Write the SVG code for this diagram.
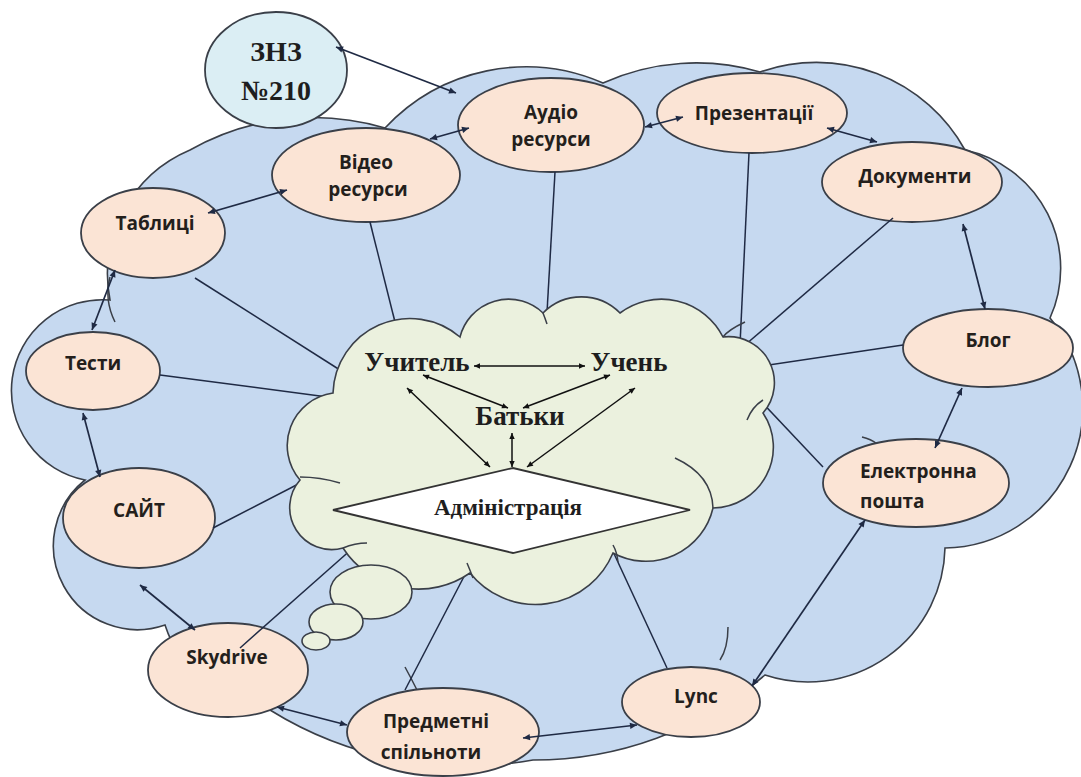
<svg xmlns="http://www.w3.org/2000/svg" width="1081" height="777" viewBox="0 0 1081 777">
<defs>
<style>
.bg{fill:#ffffff}
.blue{fill:#c6d9f0;stroke:#3a3f48;stroke-width:1.6}
.green{fill:#ebf1de;stroke:#3a3f48;stroke-width:1.6}
.stub{fill:none;stroke:#3a3f48;stroke-width:1.5}
.ell{fill:#fbe4d5;stroke:#3a3f48;stroke-width:1.8}
.znz{fill:#dbeef4;stroke:#3a3f48;stroke-width:1.8}
.dia{fill:#ffffff;stroke:#333333;stroke-width:1.8}
.lbl{font-family:"Open Sans","Liberation Sans",sans-serif;font-weight:700;font-size:19px;fill:#241f1c;text-anchor:middle}
.ser{font-family:"Liberation Serif","DejaVu Serif",serif;font-weight:700;fill:#1e1e1e;text-anchor:middle}
.line{fill:none;stroke:#1f2a44;stroke-width:1.5}
.arr{fill:none;stroke:#1f2a44;stroke-width:1.7;marker-start:url(#ah);marker-end:url(#ah)}
.carr{fill:none;stroke:#111111;stroke-width:1.5;marker-start:url(#ch);marker-end:url(#ch)}
</style>
<marker id="ah" viewBox="0 0 10 10" refX="10" refY="5" markerWidth="9" markerHeight="7" markerUnits="userSpaceOnUse" orient="auto-start-reverse">
<path d="M0,0.5 L10,5 L0,9.5 z" fill="#1f2a44"/>
</marker>
<marker id="ch" viewBox="0 0 10 10" refX="10" refY="5" markerWidth="8" markerHeight="6" markerUnits="userSpaceOnUse" orient="auto-start-reverse">
<path d="M0,0.5 L10,5 L0,9.5 z" fill="#111111"/>
</marker>
</defs>
<rect class="bg" x="0" y="0" width="1081" height="777"/>

<g id="outer-cloud">
<path class="blue" d="M110,300 A135,135 0 0 1 190,150 A250,250 0 0 1 385,128 A193,193 0 0 1 603,83 A227,227 0 0 1 760,72 A170,170 0 0 1 965,150 A121,121 0 0 1 1050,318 A140,140 0 0 1 945,548 A137,137 0 0 1 765,675 A358,358 0 0 1 533,760 A372,372 0 0 1 270,710 A124,124 0 0 1 165,625 A84,84 0 0 1 85,480 A91,91 0 0 1 110,300 Z"/>
<path class="stub" d="M110,277 Q104,300 115,322"/>
<path class="stub" d="M728,627 Q728,648 720,660"/>
<path class="stub" d="M862,437 Q871,439 877,444"/>
<path class="stub" d="M405,667 Q411,678 417,690"/>
</g>

<g id="node-znz">
<ellipse class="znz" cx="276" cy="70" rx="71" ry="58"/>
<text class="ser" x="276" y="61" font-size="28">ЗНЗ</text>
<text class="ser" x="276" y="100" font-size="28">№210</text>
</g>
<g id="node-audio">
<ellipse class="ell" cx="551" cy="125" rx="93" ry="47"/>
<text class="lbl" x="551" y="119">Аудіо</text>
<text class="lbl" x="551" y="146">ресурси</text>
</g>
<g id="node-present">
<ellipse class="ell" cx="752" cy="113" rx="95" ry="40"/>
<text class="lbl" x="754" y="120">Презентації</text>
</g>
<g id="node-video">
<ellipse class="ell" cx="366" cy="175" rx="94" ry="47"/>
<text class="lbl" x="366" y="169">Відео</text>
<text class="lbl" x="368" y="196">ресурси</text>
</g>
<g id="node-docs">
<ellipse class="ell" cx="912" cy="182" rx="90" ry="40"/>
<text class="lbl" x="915" y="183">Документи</text>
</g>
<g id="node-tables">
<ellipse class="ell" cx="153" cy="233" rx="72" ry="45"/>
<text class="lbl" x="155" y="230">Таблиці</text>
</g>
<g id="node-tests">
<ellipse class="ell" cx="93" cy="371" rx="67" ry="39"/>
<text class="lbl" x="93" y="370">Тести</text>
</g>
<g id="node-site">
<ellipse class="ell" cx="139" cy="518" rx="76" ry="50"/>
<text class="lbl" x="139" y="517">САЙТ</text>
</g>
<g id="node-skydrive">
<ellipse class="ell" cx="228" cy="670" rx="80" ry="47"/>
<text class="lbl" x="227" y="664">Skydrive</text>
</g>
<g id="node-community">
<ellipse class="ell" cx="443" cy="732" rx="96" ry="44"/>
<text class="lbl" x="436" y="728">Предметні</text>
<text class="lbl" x="431" y="759">спільноти</text>
</g>
<g id="node-lync">
<ellipse class="ell" cx="691" cy="702" rx="69" ry="35"/>
<text class="lbl" x="696" y="703">Lync</text>
</g>
<g id="node-email">
<ellipse class="ell" cx="916" cy="483" rx="93" ry="44"/>
<text class="lbl" x="860" y="478" style="text-anchor:start">Електронна</text>
<text class="lbl" x="860" y="508" style="text-anchor:start">пошта</text>
</g>
<g id="node-blog">
<ellipse class="ell" cx="988" cy="348" rx="85" ry="39"/>
<text class="lbl" x="988" y="347">Блог</text>
</g>

<g id="connectors">
<line class="line" x1="370" y1="222" x2="397" y2="330"/>
<line class="line" x1="555" y1="172" x2="546" y2="330"/>
<line class="line" x1="749" y1="153" x2="740" y2="345"/>
<line class="line" x1="893" y1="218" x2="745" y2="345"/>
<line class="line" x1="903" y1="345" x2="755" y2="367"/>
<line class="line" x1="823" y1="467" x2="755" y2="395"/>
<line class="line" x1="667" y1="668" x2="610" y2="545"/>
<line class="line" x1="405" y1="690" x2="470" y2="565"/>
<line class="line" x1="240" y1="648" x2="362" y2="540"/>
<line class="line" x1="213" y1="528" x2="310" y2="478"/>
<line class="line" x1="160" y1="375" x2="335" y2="398"/>
<line class="line" x1="195" y1="278" x2="340" y2="370"/>
<line class="arr" x1="336" y1="47" x2="456" y2="93"/>
<line class="arr" x1="430" y1="139" x2="469" y2="128"/>
<line class="arr" x1="645" y1="127" x2="683" y2="117"/>
<line class="arr" x1="827" y1="128" x2="877" y2="142"/>
<line class="arr" x1="963" y1="224" x2="985" y2="309"/>
<line class="arr" x1="962" y1="388" x2="935" y2="448"/>
<line class="arr" x1="865" y1="520" x2="752" y2="686"/>
<line class="arr" x1="523" y1="738" x2="637" y2="725"/>
<line class="arr" x1="277" y1="707" x2="347" y2="725"/>
<line class="arr" x1="140" y1="585" x2="195" y2="630"/>
<line class="arr" x1="83" y1="413" x2="100" y2="477"/>
<line class="arr" x1="115" y1="270" x2="92" y2="330"/>
<line class="arr" x1="208" y1="213" x2="287" y2="190"/>
</g>

<g id="center-cloud">
<path class="green" d="M333,393 A77,77 0 0 1 460,337 A50,50 0 0 1 543,313 A54,54 0 0 1 620,313 A69,69 0 0 1 723,337 A46,46 0 0 1 763,413 A61,61 0 0 1 713,508 A69,69 0 0 1 613,553 A84,84 0 0 1 470,573 A90,90 0 0 1 343,548 A42,42 0 0 1 300,480 A53,53 0 0 1 333,393 Z"/>
<path class="stub" d="M300,477 Q320,477 340,483"/>
<path class="stub" d="M675,458 Q712,475 713,508"/>
<path class="stub" d="M747,420 Q752,407 763,400"/>
<path class="stub" d="M343,548 Q355,543 367,543"/>
<path class="stub" d="M613,545 Q617,552 618,562"/>
<path class="stub" d="M543,313 Q545,318 547,324"/>
<path class="stub" d="M723,337 Q728,330 745,322"/>
<path class="stub" d="M467,563 Q470,570 473,578"/>
<ellipse class="green" cx="371" cy="592" rx="41" ry="27"/>
<ellipse class="green" cx="336" cy="622" rx="27" ry="18"/>
<ellipse class="green" cx="316" cy="641" rx="14" ry="9"/>
</g>

<g id="node-admin">
<polygon class="dia" points="333,510 513,468 690,510 513,553"/>
<text class="ser" x="508" y="515" font-size="23">Адміністрація</text>
</g>
<g id="node-teacher">
<text class="ser" x="417" y="371" font-size="27">Учитель</text>
</g>
<g id="node-pupil">
<text class="ser" x="629" y="371" font-size="27">Учень</text>
</g>
<g id="node-parents">
<text class="ser" x="520" y="425" font-size="27">Батьки</text>
</g>
<g id="center-connectors">
<line class="carr" x1="474" y1="366" x2="585" y2="366"/>
<line class="carr" x1="423" y1="375" x2="508" y2="408"/>
<line class="carr" x1="610" y1="375" x2="523" y2="408"/>
<line class="carr" x1="407" y1="388" x2="490" y2="467"/>
<line class="carr" x1="635" y1="388" x2="527" y2="467"/>
<line class="carr" x1="512" y1="433" x2="512" y2="467"/>
</g>
</svg>
